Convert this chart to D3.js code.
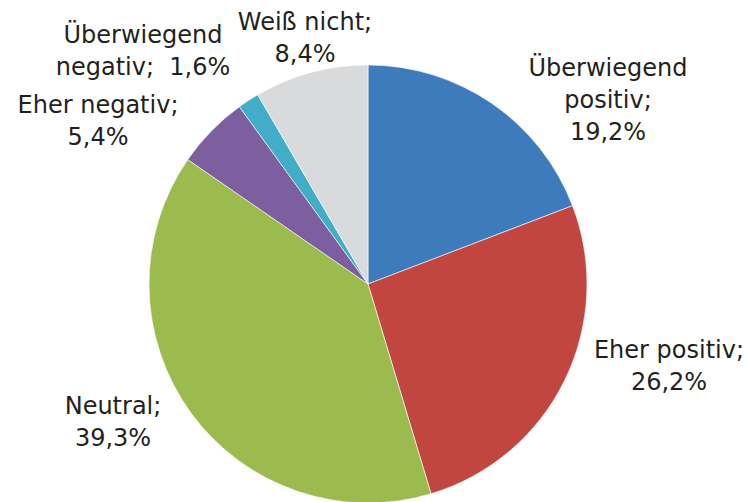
<!DOCTYPE html>
<html>
<head>
<meta charset="utf-8">
<script src="https://cdn.jsdelivr.net/npm/d3@7"></script>
<style>
  html, body { margin: 0; padding: 0; background: #fff; }
  svg { display: block; }
  .pie-label { font-family: "DejaVu Sans", sans-serif; font-size: 24px; fill: #231f20; }
</style>
</head>
<body>
<div id="chart"></div>
<script>
// Slices, clockwise from 12 o'clock.
var categories = ['Überwiegend positiv', 'Eher positiv', 'Neutral', 'Eher negativ', 'Überwiegend negativ', 'Weiß nicht'];
var shares = [19.2, 26.2, 39.3, 5.4, 1.6, 8.4];
var shareLabels = ['19,2%', '26,2%', '39,3%', '5,4%', '1,6%', '8,4%'];
// How each label is broken into lines (the value goes in as {v}).
var labelLines = [
  ['Überwiegend', 'positiv;', '{v}'],
  ['Eher positiv;', '{v}'],
  ['Neutral;', '{v}'],
  ['Eher negativ;', '{v}'],
  ['Überwiegend', 'negativ;  {v}'],
  ['Weiß nicht;', '{v}']
];
var colors = ['#3e7bbc', '#c0463f', '#9bbb4f', '#7d5fa0', '#41adc7', '#d9dadc'];

// Label anchors, relative to the pie centre (centre of the text block).
var labelPos = [[240, -184], [301, 82], [-255, 138], [-270, -163], [-225, -233], [-63, -246]];

(function() {
  'use strict';

  var width = 749, height = 502;
  var cx = 368, cy = 284, radius = 219;
  var lineH = 32;

  var svg = d3.select('#chart').append('svg')
      .attr('width', width)
      .attr('height', height);

  var g = svg.append('g').attr('transform', translation(cx, cy));

  var rows = categories.map(function(c, i) {
    return {name: c, value: shares[i], label: shareLabels[i], lines: labelLines[i], color: colors[i], pos: labelPos[i]};
  });

  var pie = d3.pie().sort(null).value(function(d) { return d.value; });
  var arc = d3.arc().innerRadius(0).outerRadius(radius);

  g.selectAll('path.slice')
    .data(pie(rows))
    .enter().append('path')
      .attr('class', 'slice')
      .attr('d', arc)
      .attr('fill', function(d) { return d.data.color; })
      .attr('stroke', '#fff')
      .attr('stroke-width', 0.6);

  var labels = g.selectAll('text.pie-label')
    .data(rows)
    .enter().append('text')
      .attr('class', 'pie-label')
      .attr('text-anchor', 'middle')
      .attr('transform', function(d) { return translation(d.pos[0], d.pos[1]); });

  labels.each(function(d) {
    var t = d3.select(this);
    var n = d.lines.length;
    d.lines.forEach(function(line, i) {
      t.append('tspan')
        .attr('x', 0)
        .attr('y', (i - (n - 1) / 2) * lineH)
        .attr('dy', '0.35em')
        .attr('xml:space', 'preserve')
        .style('white-space', 'pre')
        .text(line.replace('{v}', d.label));
    });
  });

  function translation(x, y) {
    return 'translate(' + x + ',' + y + ')';
  }
}());
</script>
</body>
</html>
